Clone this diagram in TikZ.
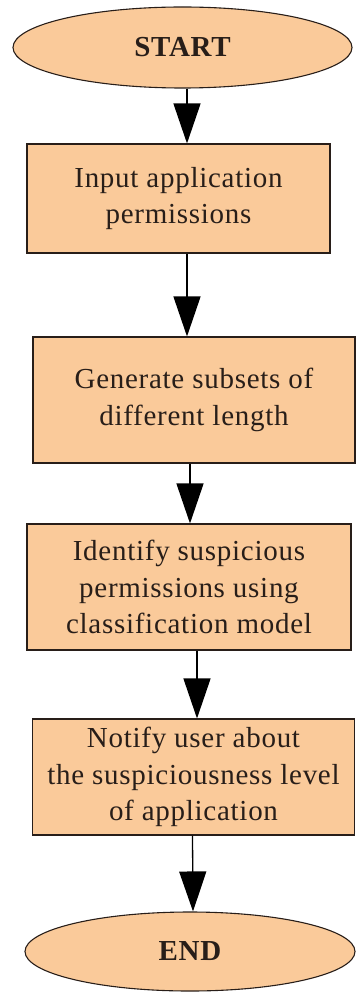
\documentclass[tikz,border=0pt]{standalone}
\usepackage{fontspec}
\setmainfont[LetterSpace=2.5]{Liberation Serif}
\usetikzlibrary{shapes.geometric,arrows.meta}
\definecolor{peach}{RGB}{250,202,154}
\definecolor{edge}{RGB}{40,30,25}
\tikzset{
  term/.style={ellipse, draw=edge, fill=peach, line width=1.1pt, inner sep=0pt,
    font=\fontsize{29}{36}\selectfont\bfseries, text=edge},
  procbox/.style={rectangle, draw=edge, fill=peach, line width=1.1pt, inner sep=0pt,
    align=center, font=\fontsize{29}{36.5}\selectfont, text=edge},
  arr/.style={line width=1.3pt, draw=black, -{Triangle[width=27pt,length=40pt]}}
}
\begin{document}
\begin{tikzpicture}[x=1pt,y=-1pt]
\useasboundingbox (0,0) rectangle (356,992);
\node[term, minimum width=339pt, minimum height=81pt] (start) at (182.5,47.5) {START};
\node[procbox, minimum width=303pt, minimum height=109pt] (b1) at (178.5,198.5) {Input application\\permissions};
\node[procbox, minimum width=322pt, minimum height=126pt] (b2) at (194,400) {Generate subsets of\\different length};
\node[procbox, minimum width=324pt, minimum height=126pt] (b3) at (189,587) {Identify suspicious\\permissions using\\classification model};
\node[procbox, minimum width=322pt, minimum height=116pt] (b4) at (193.5,777) {Notify user about\\the suspiciousness level\\of application};
\node[term, minimum width=330pt, minimum height=79pt] (end) at (190,951.5) {END};
\draw[arr] ([xshift=4.5pt]start.south) -- ([xshift=8.5pt]b1.north);
\draw[arr] ([xshift=8.5pt]b1.south) -- ([xshift=-7pt]b2.north);
\draw[arr] ([xshift=-4pt]b2.south) -- ([xshift=1pt]b3.north);
\draw[arr] ([xshift=8pt]b3.south) -- ([xshift=3.5pt]b4.north);
\draw[arr] ([xshift=-1pt]b4.south) -- ([xshift=3pt]end.north);
\end{tikzpicture}
\end{document}
